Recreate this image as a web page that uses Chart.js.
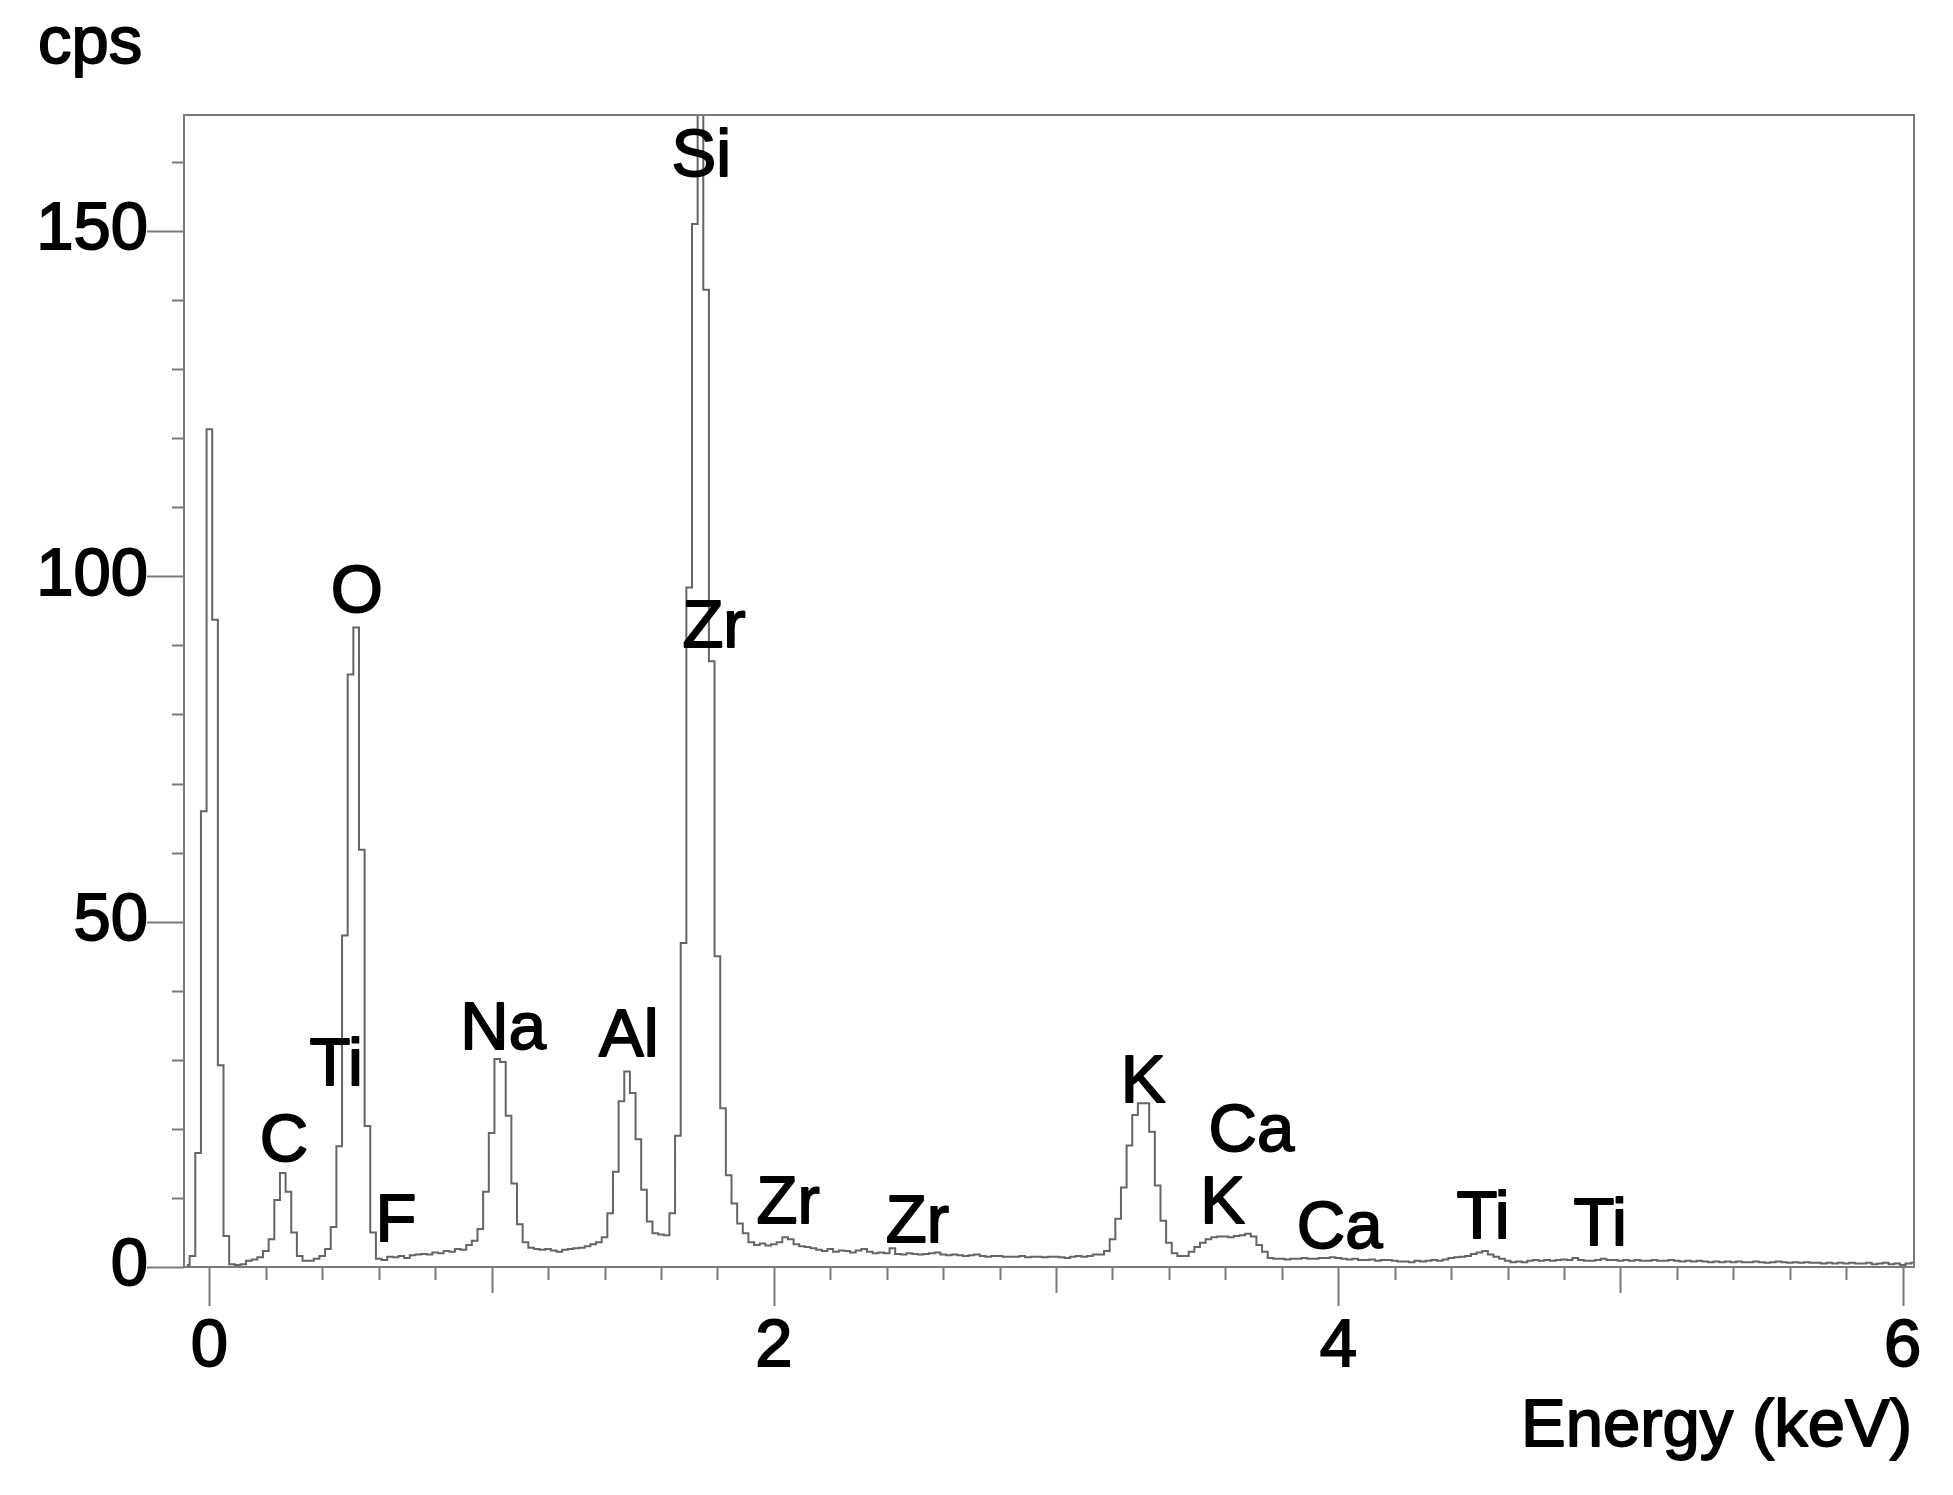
<!DOCTYPE html>
<html><head><meta charset="utf-8">
<script src="https://cdn.jsdelivr.net/npm/chart.js@4.4.0/dist/chart.umd.min.js"></script>
<style>html,body{margin:0;padding:0;background:#fff;}</style>
</head><body>
<canvas id="c" width="1953" height="1495" style="display:block;width:1953px;height:1495px"></canvas>
<script>
// ---- data (EDS spectrum, 0.02 keV channels) ----
const energyStart = -0.08;   // keV, centre of first channel
const energyStep = 0.02;     // keV per channel
const counts = [
  0.3, 1.6, 16.5, 66, 121.3, 93.7, 29.2, 4.5, 0.4, 0.3,        // -0.08 .. 0.10
  0.4, 0.9, 1.1, 1.4, 2.3, 4.0, 9.7, 13.6, 10.9, 5.0,          // 0.12 .. 0.30
  1.6, 0.9, 0.9, 1.2, 1.6, 2.6, 5.8, 17.5, 48, 85.8,           // 0.32 .. 0.50
  92.6, 60.4, 20.4, 5.0, 1.2, 1.0, 1.5, 1.4, 1.6, 1.3,         // 0.52 .. 0.70
  1.7, 1.8, 1.9, 1.8, 2.1, 2.0, 2.3, 2.2, 2.6, 2.5,            // 0.72 .. 0.90
  3.2, 3.8, 5.5, 10.9, 19.4, 30.1, 29.7, 21.9, 12.1, 6.2,      // 0.92 .. 1.10
  3.6, 2.8, 2.6, 2.5, 2.6, 2.4, 2.2, 2.5, 2.6, 2.7,            // 1.12 .. 1.30
  2.8, 3.0, 3.3, 3.6, 4.3, 7.8, 13.8, 24, 28.3, 25.2,          // 1.32 .. 1.50
  18.5, 11.2, 6.6, 4.9, 4.7, 4.6, 7.8, 19, 46.9, 98.4,         // 1.52 .. 1.70
  151, 172, 141.5, 87.7, 45, 23, 13.3, 9.2, 6.3, 4.9,          // 1.72 .. 1.90
  3.6, 3.2, 3.4, 3.1, 3.3, 3.6, 4.3, 4.0, 3.3, 3.0,            // 1.92 .. 2.10
  2.9, 2.7, 2.5, 2.3, 2.6, 2.2, 2.4, 2.3, 2.1, 2.4,            // 2.12 .. 2.30
  2.6, 2.2, 2.0, 2.1, 2.0, 2.7, 1.9, 1.8, 2.0, 1.9,            // 2.32 .. 2.50
  1.8, 1.9, 2.0, 2.1, 1.8, 1.7, 1.8, 1.7, 1.6, 1.7,            // 2.52 .. 2.70
  1.8, 1.6, 1.5, 1.6, 1.6, 1.5, 1.5, 1.5, 1.6, 1.4,            // 2.72 .. 2.90
  1.5, 1.5, 1.4, 1.5, 1.5, 1.4, 1.3, 1.5, 1.6, 1.5,            // 2.92 .. 3.10
  1.6, 1.8, 1.8, 2.3, 4.0, 7.0, 11.5, 17.6, 22, 23.7,          // 3.12 .. 3.30
  23.7, 19.6, 11.8, 6.7, 3.5, 2.0, 1.6, 1.6, 2.2, 2.9,         // 3.32 .. 3.50
  3.5, 4.0, 4.3, 4.4, 4.4, 4.3, 4.5, 4.6, 4.8, 4.4,            // 3.52 .. 3.70
  3.2, 2.2, 1.3, 1.2, 1.2, 1.1, 1.2, 1.2, 1.3, 1.2,            // 3.72 .. 3.90
  1.2, 1.3, 1.3, 1.4, 1.3, 1.2, 1.1, 1.2, 1.0, 1.0,            // 3.92 .. 4.10
  1.1, 0.9, 1.0, 1.0, 0.9, 0.8, 0.8, 0.7, 0.9, 0.8,            // 4.12 .. 4.30
  0.9, 1.0, 0.9, 1.1, 1.3, 1.4, 1.5, 1.6, 1.9, 2.1,            // 4.32 .. 4.50
  2.3, 1.8, 1.5, 1.2, 0.9, 0.7, 0.8, 0.7, 0.9, 1.0,            // 4.52 .. 4.70
  0.9, 1.0, 0.9, 1.0, 1.1, 1.0, 1.3, 1.0, 0.9, 0.9,            // 4.72 .. 4.90
  1.0, 1.2, 1.0, 1.0, 0.9, 1.0, 0.9, 1.0, 0.9, 0.9,            // 4.92 .. 5.10
  1.0, 0.9, 0.9, 1.0, 0.9, 0.8, 0.9, 0.8, 0.9, 0.8,            // 5.12 .. 5.30
  0.7, 0.8, 0.7, 0.8, 0.7, 0.8, 0.7, 0.7, 0.8, 0.7,            // 5.32 .. 5.50
  0.6, 0.7, 0.8, 0.7, 0.6, 0.7, 0.6, 0.7, 0.6, 0.6,            // 5.52 .. 5.70
  0.5, 0.6, 0.5, 0.6, 0.5, 0.6, 0.5, 0.5, 0.6, 0.4,            // 5.72 .. 5.90
  0.5, 0.6, 0.4, 0.5, 0.3, 0.5, 0.6                            // 5.92 .. 6.04
];
const xLabelValues = [0, 2, 4, 6];
const yLabelValues = [0, 50, 100, 150];
const peakLabels = [
  { text: 'Si', e: 1.743, cps: 161.4 },
  { text: 'O',  e: 0.522, cps: 98.3 },
  { text: 'Zr', e: 1.788, cps: 93.2 },
  { text: 'Ti', e: 0.449, cps: 29.8 },
  { text: 'C',  e: 0.264, cps: 18.8 },
  { text: 'F',  e: 0.661, cps: 7.3 },
  { text: 'Na', e: 1.041, cps: 35.1 },
  { text: 'Al', e: 1.486, cps: 34.0 },
  { text: 'Zr', e: 2.051, cps: 9.8 },
  { text: 'Zr', e: 2.509, cps: 7.1 },
  { text: 'K',  e: 3.308, cps: 27.3 },
  { text: 'Ca', e: 3.692, cps: 20.3 },
  { text: 'K',  e: 3.590, cps: 9.8 },
  { text: 'Ca', e: 4.005, cps: 6.2 },
  { text: 'Ti', e: 4.513, cps: 7.6 },
  { text: 'Ti', e: 4.928, cps: 6.7 }
];
const xTitle = 'Energy (keV)';
const yTitle = 'cps';

// ---- build chart ----
const FONT = '"Liberation Sans", Arial, Helvetica, sans-serif';
const FS = 67;
const STROKE = 1.8;
const points = counts.map((c, i) => ({ x: +(energyStart + i * energyStep).toFixed(2), y: c }));
const near = (v, t) => Math.abs(v - t) < 1e-6;

function drawText(ctx, text, x, y) {
  ctx.strokeText(text, x, y);
  ctx.fillText(text, x, y);
}

const decor = {
  id: 'decor',
  afterDraw(chart) {
    const ctx = chart.ctx, a = chart.chartArea;
    const xs = chart.scales.x, ys = chart.scales.y;
    ctx.save();
    // frame
    ctx.strokeStyle = '#7a7a7a';
    ctx.lineWidth = 2;
    ctx.strokeRect(a.left, a.top, a.right - a.left, a.bottom - a.top);
    // y tick marks (every 10, long every 50)
    ctx.beginPath();
    for (let v = 0; v <= ys.max + 1e-9; v += 10) {
      const py = Math.round(ys.getPixelForValue(v)) + 0.5;
      const len = (Math.round(v) % 50 === 0) ? 37 : 12;
      ctx.moveTo(a.left - len, py); ctx.lineTo(a.left, py);
    }
    // x tick marks (every 0.2, longer at integers, longest at labels)
    for (let i = 0; i <= 30; i++) {
      const v = i * 0.2;
      if (v > xs.max) break;
      const px = Math.round(xs.getPixelForValue(v)) + 0.5;
      let len = 13;
      if (i % 5 === 0) len = (i % 10 === 0) ? 39 : 26;
      ctx.moveTo(px, a.bottom); ctx.lineTo(px, a.bottom + len);
    }
    ctx.stroke();
    // peak labels
    ctx.fillStyle = '#000';
    ctx.strokeStyle = '#000';
    ctx.lineWidth = STROKE;
    ctx.lineJoin = 'round';
    ctx.font = FS + 'px ' + FONT;
    ctx.textAlign = 'center';
    ctx.textBaseline = 'alphabetic';
    peakLabels.forEach(p => {
      const px = xs.getPixelForValue(p.e);
      const py = ys.getPixelForValue(p.cps) + 0.358 * FS;
      drawText(ctx, p.text, px, py);
    });
    // axis titles
    ctx.textAlign = 'left';
    drawText(ctx, yTitle, 38, 63);
    ctx.textAlign = 'right';
    drawText(ctx, xTitle, a.right - 2, 1446);
    ctx.restore();
  }
};

new Chart(document.getElementById('c'), {
  type: 'line',
  data: {
    datasets: [{
      data: points,
      borderColor: '#656565',
      borderWidth: 2,
      stepped: 'middle',
      pointRadius: 0,
      fill: false
    }]
  },
  options: {
    responsive: false,
    animation: false,
    devicePixelRatio: 1,
    layout: { padding: { top: 115, right: 39, left: 0, bottom: 0 } },
    plugins: { legend: { display: false }, tooltip: { enabled: false } },
    scales: {
      x: {
        type: 'linear', min: -0.09, max: 6.04,
        afterFit(s) { s.height = 228; s.paddingLeft = 0; s.paddingRight = 0; },
        grid: { display: false, drawTicks: false },
        border: { display: false },
        ticks: {
          stepSize: 0.2, includeBounds: false, maxTicksLimit: 200, autoSkip: false, maxRotation: 0, minRotation: 0,
          padding: 40, color: '#000', textStrokeColor: '#000', textStrokeWidth: STROKE,
          font: { family: FONT, size: FS },
          callback: (v) => { const lab = xLabelValues.find(t => near(v, t)); return lab === undefined ? '' : String(lab); }
        }
      },
      y: {
        type: 'linear', min: 0, max: 166.8,
        afterFit(s) { s.width = 184; s.paddingTop = 0; s.paddingBottom = 0; },
        grid: { display: false, drawTicks: false },
        border: { display: false },
        ticks: {
          stepSize: 10, includeBounds: false, maxTicksLimit: 200, autoSkip: false,
          padding: 36, color: '#000', textStrokeColor: '#000', textStrokeWidth: STROKE,
          font: { family: FONT, size: FS },
          callback: (v) => { const lab = yLabelValues.find(t => near(v, t)); return lab === undefined ? '' : String(lab); }
        }
      }
    }
  },
  plugins: [decor]
});
</script>
</body></html>
